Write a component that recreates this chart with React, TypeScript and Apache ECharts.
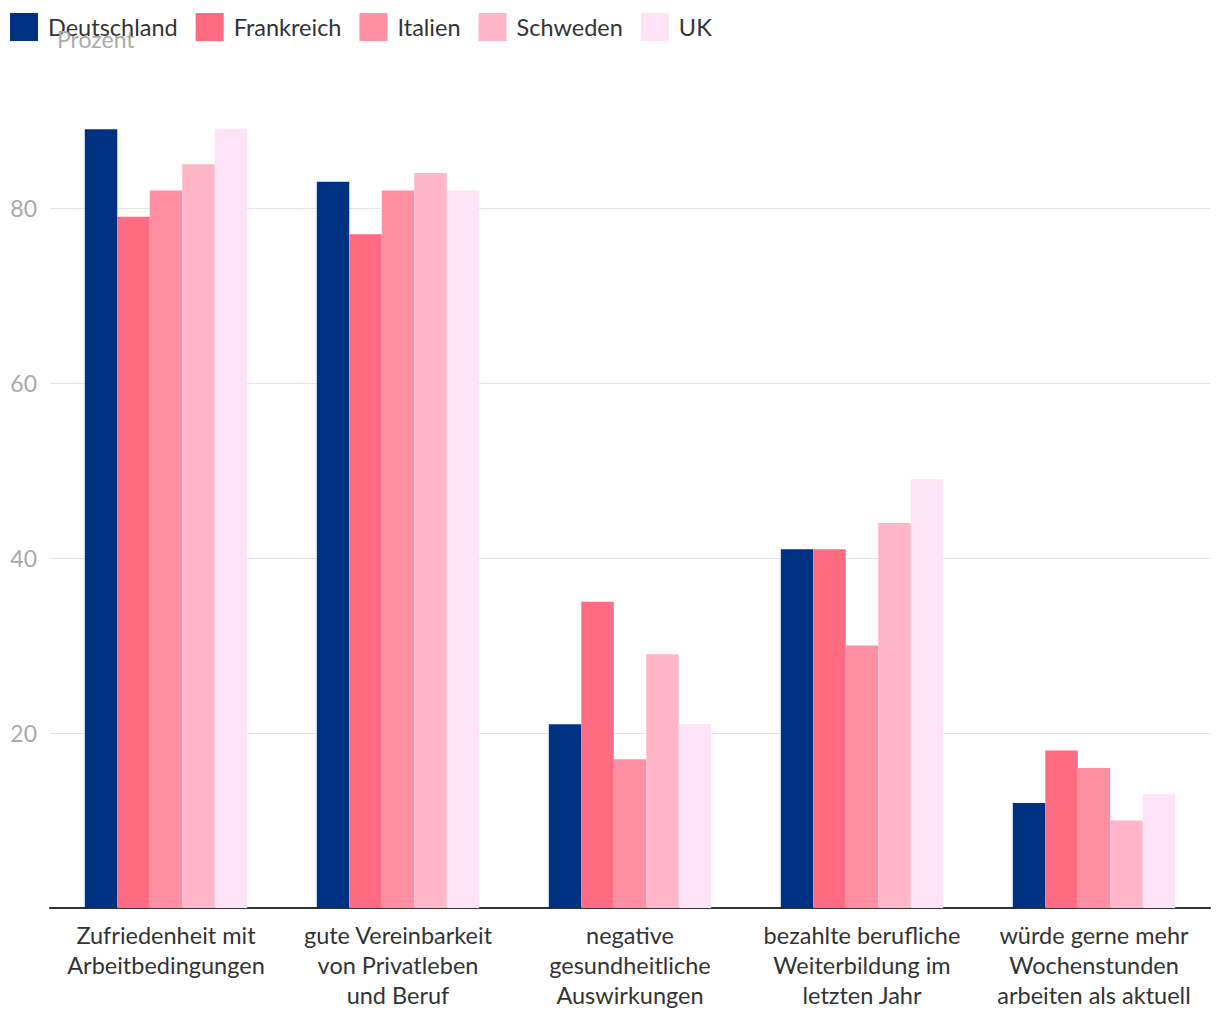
import React, { useEffect, useRef } from "react";
import * as echarts from "echarts";

const categories = [
  "Zufriedenheit mit\nArbeitbedingungen",
  "gute Vereinbarkeit\nvon Privatleben\nund Beruf",
  "negative\ngesundheitliche\nAuswirkungen",
  "bezahlte berufliche\nWeiterbildung im\nletzten Jahr",
  "würde gerne mehr\nWochenstunden\narbeiten als aktuell",
];
const countries = ["Deutschland", "Frankreich", "Italien", "Schweden", "UK"];
const colors = ["#003283", "#ff6b81", "#ff8fa3", "#ffb6c9", "#fde3f5"];
const deutschland = [89, 83, 21, 41, 12];
const frankreich = [79, 77, 35, 41, 18];
const italien = [82, 82, 17, 30, 16];
const schweden = [85, 84, 29, 44, 10];
const uk = [89, 82, 21, 49, 13];
const seriesValues = [deutschland, frankreich, italien, schweden, uk];

const FONT = "Lato, 'Noto Sans', sans-serif";

export default function App() {
  const ref = useRef<HTMLDivElement>(null);
  useEffect(() => {
    document.body.style.margin = "0";
    const chart = echarts.init(ref.current!, undefined, { renderer: "svg" });
    chart.setOption({
      animation: false,
      textStyle: { fontFamily: FONT },
      color: colors,
      legend: {
        left: 10,
        top: 13,
        padding: 0,
        itemWidth: 28,
        itemHeight: 28,
        itemGap: 18,
        icon: "rect",
        textStyle: { fontSize: 23.5, color: "#333", fontFamily: FONT, padding: [0, 0, 0, 5] },
        data: countries,
      },
      grid: { left: 50, right: 10, top: 33, bottom: 112, containLabel: false },
      xAxis: {
        type: "category",
        data: categories,
        axisLine: { show: true, lineStyle: { color: "#333", width: 2 } },
        axisTick: { show: false },
        axisLabel: {
          fontSize: 23.5,
          color: "#333",
          lineHeight: 30,
          margin: 12,
          interval: 0,
          fontFamily: FONT,
        },
      },
      yAxis: {
        type: "value",
        min: 0,
        max: 100,
        interval: 20,
        axisLine: { show: false },
        axisTick: { show: false },
        axisLabel: {
          fontSize: 23,
          color: "#aaa",
          margin: 13,
          showMinLabel: false,
          showMaxLabel: false,
          fontFamily: FONT,
        },
        splitLine: {
          show: true,
          showMinLine: false,
          showMaxLine: false,
          lineStyle: { color: "#e3e3e3", width: 1 },
        },
      },
      graphic: [
        {
          type: "text",
          left: 57,
          top: 27,
          style: { text: "Prozent", fontSize: 23, fill: "#aaa", fontFamily: FONT },
          z: 100,
        },
      ],
      series: countries.map((name, i) => ({
        name,
        type: "bar",
        data: seriesValues[i],
        barGap: "0%",
        barCategoryGap: "30%",
        itemStyle: { color: colors[i] },
      })),
    });
    return () => chart.dispose();
  }, []);
  return <div ref={ref} style={{ position: "absolute", left: 0, top: 0, width: 1220, height: 1020 }} />;
}
